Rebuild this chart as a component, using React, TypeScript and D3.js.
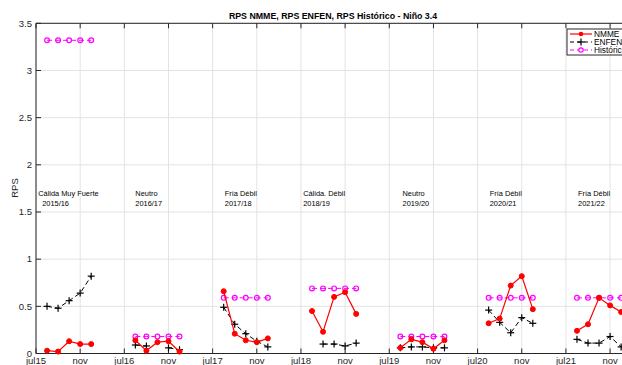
import React from "react";
import * as d3 from "d3";

const seasons = ["2015/16", "2016/17", "2017/18", "2018/19", "2019/20", "2020/21", "2021/22"];
const categories = ["Cálida Muy Fuerte", "Neutro", "Fría Débil", "Cálida. Débil", "Neutro", "Fría Débil", "Fría Débil"];
const labelX = [0.2, 9, 17.1, 24.2, 33.2, 41.1, 49.1];

const nmme: number[][] = [
  [0.03, 0.02, 0.13, 0.10, 0.10],
  [0.14, 0.03, 0.12, 0.13, 0.02],
  [0.66, 0.21, 0.14, 0.12, 0.16],
  [0.45, 0.23, 0.60, 0.65, 0.42],
  [0.06, 0.15, 0.12, 0.05, 0.14],
  [0.32, 0.37, 0.72, 0.82, 0.47],
  [0.24, 0.31, 0.59, 0.51, 0.44],
];
const enfen: (number | null)[][] = [
  [0.50, 0.48, 0.56, 0.64, 0.82],
  [0.09, 0.08, null, 0.06, 0.04],
  [0.49, 0.31, 0.21, 0.13, 0.07],
  [null, 0.10, 0.10, 0.08, 0.11],
  [0.06, 0.07, 0.07, 0.06, 0.06],
  [0.46, 0.33, 0.22, 0.38, 0.32],
  [0.15, 0.11, 0.11, 0.18, 0.07],
];
const historico: number[] = [3.32, 0.18, 0.59, 0.69, 0.18, 0.59, 0.59];

const xTickLabels = ["jul15", "nov", "jul16", "nov", "jul17", "nov", "jul18", "nov", "jul19", "nov", "jul20", "nov", "jul21", "nov"];
const yTicks = [0, 0.5, 1, 1.5, 2, 2.5, 3, 3.5];

const W = 622, H = 365;
const left = 36, top = 23.3, bottom = 353.5;
const unit = 11.04;

export default function App() {
  const x = d3.scaleLinear().domain([0, 56]).range([left, left + 56 * unit]);
  const y = d3.scaleLinear().domain([0, 3.5]).range([bottom, top]);
  const right = x(56);
  const xTicks = xTickLabels.map((_, i) => i * 4);
  const font = "'Liberation Sans', Arial, Helvetica, sans-serif";
  const axisColor = "#262626";

  const lineGen = d3
    .line<[number, number | null]>()
    .defined((d) => d[1] !== null)
    .x((d) => x(d[0]))
    .y((d) => y(d[1] as number));

  const groups = seasons.map((s, i) => {
    const xs = [1, 2, 3, 4, 5].map((k) => i * 8 + k);
    return {
      s,
      i,
      nm: xs.map((xx, k) => [xx, nmme[i][k]] as [number, number | null]),
      en: xs.map((xx, k) => [xx, enfen[i][k]] as [number, number | null]),
      hi: xs.map((xx) => [xx, historico[i]] as [number, number | null]),
    };
  });

  const plus = (cx: number, cy: number, key: string) => (
    <g key={key} stroke="#000" strokeWidth={1.2}>
      <line x1={cx - 3.5} x2={cx + 3.5} y1={cy} y2={cy} />
      <line x1={cx} x2={cx} y1={cy - 3.5} y2={cy + 3.5} />
    </g>
  );

  return (
    <svg width={W} height={H} style={{ position: "absolute", left: 0, top: 0, display: "block" }} fontFamily={font}>
      <rect x={0} y={0} width={W} height={H} fill="#fff" />
      {/* grid */}
      {xTicks.map((t) => (
        <line key={"gx" + t} x1={x(t)} x2={x(t)} y1={top} y2={bottom} stroke="#e3e3e3" strokeWidth={1} />
      ))}
      {yTicks.map((t) => (
        <line key={"gy" + t} x1={left} x2={right} y1={y(t)} y2={y(t)} stroke="#e3e3e3" strokeWidth={1} />
      ))}
      {/* axes box */}
      <line x1={left} x2={right} y1={top} y2={top} stroke={axisColor} strokeWidth={1} />
      <line x1={left} x2={right} y1={bottom} y2={bottom} stroke={axisColor} strokeWidth={1} />
      <line x1={left} x2={left} y1={top} y2={bottom} stroke={axisColor} strokeWidth={1} />
      {xTicks.map((t) => (
        <g key={"tx" + t}>
          <line x1={x(t)} x2={x(t)} y1={bottom} y2={bottom - 5} stroke={axisColor} />
          <line x1={x(t)} x2={x(t)} y1={top} y2={top + 5} stroke={axisColor} />
        </g>
      ))}
      {yTicks.map((t) => (
        <line key={"ty" + t} x1={left} x2={left + 5} y1={y(t)} y2={y(t)} stroke={axisColor} />
      ))}
      {xTickLabels.map((lab, i) => (
        <text key={"xl" + i} x={x(xTicks[i])} y={364} fontSize={9.5} textAnchor="middle" fill={axisColor}>
          {lab}
        </text>
      ))}
      {yTicks.map((t) => (
        <text key={"yl" + t} x={left - 4} y={y(t) + 3.3} fontSize={9.5} textAnchor="end" fill={axisColor}>
          {String(t)}
        </text>
      ))}
      <text transform={`translate(18,188) rotate(-90)`} fontSize={9.5} textAnchor="middle" fill={axisColor}>
        RPS
      </text>
      <text x={333} y={19} fontSize={8.8} fontWeight="bold" textAnchor="middle" fill="#000">
        RPS NMME, RPS ENFEN, RPS Histórico - Niño 3.4
      </text>
      {/* annotations */}
      {groups.map((g) => (
        <g key={"an" + g.i} fontSize={7.4} fill="#000">
          <text x={x(labelX[g.i])} y={196}>{categories[g.i]}</text>
          <text x={x(labelX[g.i]) + (g.i === 0 ? 4 : 0)} y={206}>{g.s}</text>
        </g>
      ))}
      {/* series */}
      {groups.map((g) => (
        <g key={"s" + g.i}>
          <path d={lineGen(g.hi) || ""} fill="none" stroke="#ff00ff" strokeWidth={1} strokeDasharray="5,3" />
          {g.hi.map((d, k) => (
            <circle key={k} cx={x(d[0])} cy={y(d[1] as number)} r={2.4} fill="none" stroke="#ff00ff" strokeWidth={1.2} />
          ))}
          <path d={lineGen(g.en) || ""} fill="none" stroke="#000" strokeWidth={1} strokeDasharray="5,3" />
          {g.en.filter((d) => d[1] !== null).map((d, k) => plus(x(d[0]), y(d[1] as number), "p" + k))}
          <path d={lineGen(g.nm) || ""} fill="none" stroke="#ff0000" strokeWidth={1.2} />
          {g.nm.map((d, k) => (
            <circle key={k} cx={x(d[0])} cy={y(d[1] as number)} r={2.5} fill="#ff0000" stroke="#ff0000" />
          ))}
        </g>
      ))}
      {/* legend */}
      <g>
        <rect x={567} y={29} width={80} height={26} fill="#fff" stroke={axisColor} strokeWidth={1} />
        <line x1={570} x2={592} y1={34} y2={34} stroke="#ff0000" strokeWidth={1.2} />
        <circle cx={581} cy={34} r={2.3} fill="#ff0000" />
        <line x1={570} x2={592} y1={42} y2={42} stroke="#000" strokeWidth={1} strokeDasharray="4,3" />
        {plus(581, 42, "lp")}
        <line x1={570} x2={592} y1={50} y2={50} stroke="#ff00ff" strokeWidth={1} strokeDasharray="4,3" />
        <circle cx={581} cy={50} r={2.2} fill="#fff" stroke="#ff00ff" strokeWidth={1.2} />
        <text x={594} y={37} fontSize={8.3} fill="#000">NMME</text>
        <text x={594} y={45} fontSize={8.3} fill="#000">ENFEN</text>
        <text x={594} y={53} fontSize={8.3} fill="#000">Histórico</text>
      </g>
    </svg>
  );
}
